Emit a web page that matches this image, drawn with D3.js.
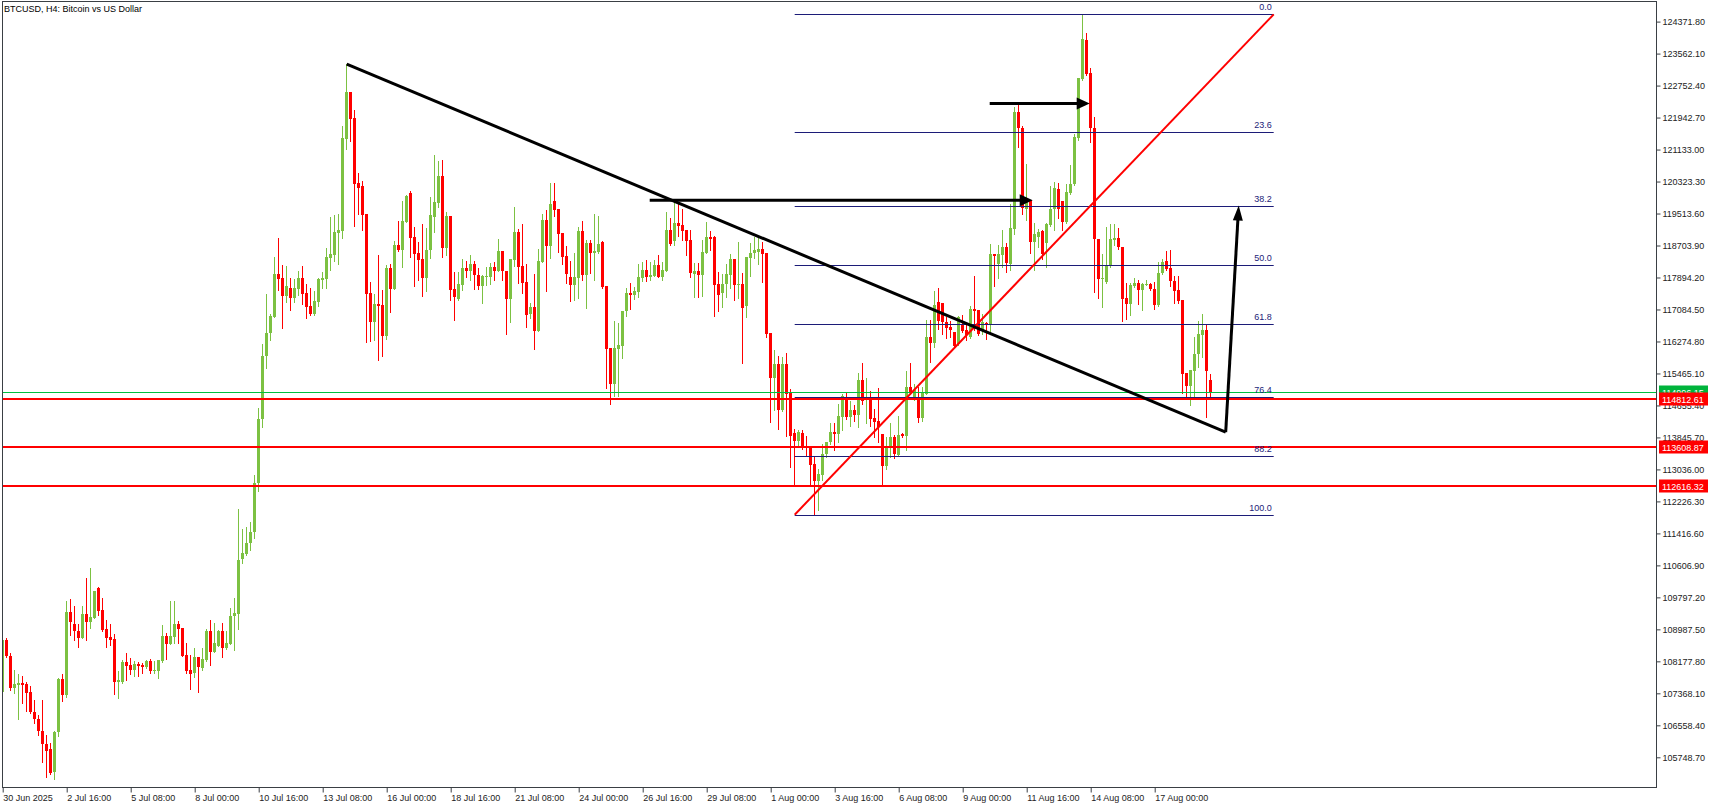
<!DOCTYPE html>
<html>
<head>
<meta charset="utf-8">
<script src="https://cdn.jsdelivr.net/npm/d3@7"></script>
<style>
  html, body { margin: 0; padding: 0; background: #ffffff; }
  svg { display: block; }
  text { font-family: "Liberation Sans", Arial, sans-serif; }
</style>
</head>
<body>
<svg id="chart" width="1719" height="810"></svg>
<script>
// ---- BTCUSD H4 bars, starting 30 Jun 2025 00:00, one bar every 4 hours ----
const startTime = "2025-06-30T00:00:00Z";
const barHours = 4;

// [open, high, low, close]
const ohlc = [
  [107400,108742,107374,108725],[108725,108776,108286,108303],[108320,108396,107442,107493],[107493,107966,107366,107594],
  [107569,107864,106707,107619],[107619,107813,107113,107569],[107611,107653,106910,107366],[107391,107560,106860,106885],
  [106902,107206,106606,106707],[106724,106826,106302,106403],[106420,107206,105618,106074],[106091,106302,105238,105897],
  [105964,106117,105331,105357],[105365,106403,105188,106387],[106378,107763,106277,107737],[107737,107864,107180,107332],
  [107332,109713,107265,109435],[109435,109764,108852,109164],[109131,109570,108709,108936],[108953,109131,108531,108776],
  [108776,109587,108776,109384],[109384,110296,108725,109164],[109164,110549,109021,109308],[109283,109966,109266,109966],
  [110042,110051,109359,109460],[109485,109789,108953,108979],[109004,109232,108531,108759],[108785,109131,108599,108725],
  [108751,108877,107341,107645],[107645,107940,107239,107712],[107645,108219,107620,108168],[108168,108396,107695,108067],
  [108092,108269,107864,107966],[107966,108193,107813,108118],[108118,108168,107813,108067],[108092,108143,107889,108042],
  [108042,108219,108000,108193],[108193,108244,107889,107940],[107940,108193,107889,107966],[107940,108219,107746,108219],
  [108193,109105,108151,108827],[108827,108903,108227,108607],[108624,109713,108624,108827],[108801,109713,108649,109131],
  [109131,109207,108649,109004],[109029,109029,108303,108320],[108345,108649,107873,107940],[107966,108345,107484,107847],
  [107889,108523,107771,108295],[108295,108295,107408,108025],[108016,108523,107966,108244],[108219,109004,108193,108953],
  [108953,109232,108075,108421],[108421,109156,108421,108649],[108573,108979,108573,108953],[108953,109156,108295,108523],
  [108523,108953,108497,108649],[108624,109536,108624,109333],[109316,109789,108472,109409],[109384,112043,109004,110752],
  [110777,111537,110676,110929],[110904,111588,110878,111182],[111182,111700,111000,111450],[111450,112900,111300,112700],
  [112700,114600,112500,114300],[114300,116200,114100,115900],[115900,117487,115600,116500],[116500,116971,116300,116921],
  [116896,118407,116896,117976],[117976,118888,117579,117858],[117875,118204,116617,117427],[117427,118179,117275,117672],
  [117622,117875,117073,117377],[117377,117850,117275,117622],[117605,118052,117453,117875],[117875,118179,117225,117478],
  [117504,117732,116870,117149],[117174,117622,116946,116972],[116972,117554,116946,117301],[117275,117875,117174,117858],
  [117824,118027,117630,117875],[117858,118635,117630,118407],[118382,119420,118078,118483],[118458,119479,118306,119040],
  [119015,119496,118230,119091],[119065,121725,118888,121421],[121396,123295,121142,122586],[122586,122586,121345,121902],
  [121927,122130,119192,120264],[120281,120534,119496,120163],[120205,120332,119091,119479],[119496,119496,116254,117470],
  [117504,117782,116288,116769],[116769,117478,116305,117216],[117216,118458,115800,117174],[117191,117579,115900,116414],
  [116414,118204,116338,118128],[118128,118238,117022,117605],[117605,118812,117605,118711],[118711,119319,118559,118584],
  [118584,119825,118154,119319],[119293,119986,119293,119960],[120028,120079,118407,118896],[118913,119167,117672,118483],
  [118508,118787,117824,118331],[118356,119243,117419,117875],[117875,119141,117546,118584],[118584,119927,118382,119471],
  [119429,120990,119040,119800],[119775,120838,119673,120459],[120459,120864,118407,118635],[118635,119547,118458,119445],
  [119445,119445,117326,117579],[117605,118027,116819,117402],[117351,118027,117326,117723],[117706,118356,117579,118128],
  [118128,118306,117909,118060],[118060,118458,117824,118230],[118230,118306,117605,117959],[117968,118128,117605,117681],
  [117681,117968,117250,117926],[117900,118153,117706,117926],[117909,118255,117723,118153],[118153,118280,117824,118060],
  [118060,118863,118060,118559],[118559,118559,117824,118060],[118060,118060,116465,117351],[117351,118356,116760,118356],
  [118339,119673,118187,119040],[119040,119116,117757,118162],[118179,119243,117503,117757],[117774,118229,116642,116946],
  [116963,117242,116870,117140],[117140,117976,116085,116541],[116541,118609,116541,118305],[118280,119496,118280,119344],
  [119344,119614,117554,118685],[118685,120281,118390,119749],[119825,120281,119445,119597],[119623,119623,118542,118998],
  [119015,119015,118238,118415],[118432,118685,117757,117985],[117902,118305,117301,117706],[117706,118508,117326,117900],
  [117875,119167,117368,119065],[119065,119319,117833,117959],[117959,118837,117123,118761],[118761,118837,118010,118517],
  [118517,119496,117833,118559],[118542,119445,118517,118736],[118787,118812,117630,117655],[117672,117672,115097,116085],
  [116102,116102,114692,115198],[115198,116786,114895,116102],[116085,116735,114895,116178],[116161,117039,115857,117039],
  [117039,117622,116912,117495],[117495,117748,117098,117453],[117453,117647,117351,117546],[117529,118229,117402,117900],
  [117883,118280,117807,118086],[118077,118331,117807,117900],[117900,118280,117824,117951],[117926,118331,117926,118204],
  [118204,118457,117900,117900],[117900,118289,117824,118086],[118060,119547,118060,119091],[119091,119395,118711,118736],
  [118812,119800,118711,119268],[119268,119749,118939,119192],[119217,119623,118837,119065],[119091,119091,118466,118812],
  [118837,119091,117909,118010],[117985,118255,117402,118060],[118060,118263,117402,117959],[117959,118837,117419,118533],
  [118517,119293,118517,118913],[118913,119065,118584,118871],[118913,118939,116921,117706],[117723,118027,117047,117453],
  [117503,117976,117149,117723],[117723,118246,117402,117976],[117951,118483,117630,118356],[118356,118356,117334,117706],
  [117714,118787,117385,117723],[117723,118001,115730,117123],[117166,118407,116895,118407],[118381,118761,117925,118508],
  [118508,118913,118381,118584],[118533,118913,118229,118609],[118609,118787,117782,118483],[118508,118508,116389,116456],
  [116482,116482,114236,115342],[115342,116051,114531,115697],[115697,115899,114059,114531],[114531,115874,114514,115697],
  [115697,115975,113881,114953],[114979,115063,113096,113881],[113957,114059,112665,113755],[113755,114033,113603,113983],
  [113966,114033,113552,113603],[113603,113881,113375,113569],[113603,113603,112665,113147],[113164,113383,111920,112741],
  [112741,113054,111998,112910],[112885,113687,112758,113434],[113434,113729,113349,113729],[113729,114210,113687,113983],
  [113983,114210,113535,113923],[113923,114700,113729,114388],[114362,114953,114042,114895],[114869,114979,114312,114362],
  [114362,114768,114126,114540],[114540,114666,114261,114413],[114413,115468,114109,115291],[115291,115722,114692,114768],
  [114785,115350,114210,114869],[114869,115029,114143,114312],[114337,114565,113856,114236],[114261,115089,113729,114109],
  [113932,113932,112623,113121],[113121,113864,113054,113603],[113603,114210,113349,113864],[113864,113907,113324,113425],
  [113400,114396,113383,113907],[113932,113960,113856,113881],[113881,115519,113535,115122],[115122,115722,114945,115004],
  [114861,115207,114785,115046],[114878,115122,114227,114337],[114337,115122,114270,114979],[114953,116828,114945,116389],
  [116389,116828,115756,116237],[116237,117545,116136,117191],[117267,117638,116600,116794],[117258,117258,116473,116769],
  [116769,116895,116372,116617],[116642,116794,116389,116558],[116515,116515,116136,116161],[116220,116921,116178,116895],
  [116710,116938,116507,116532],[116558,116684,116305,116431],[116389,117166,116364,117090],[117090,117926,116558,117048],
  [117065,117065,116440,116473],[116558,116980,116473,116769],[116744,116769,116338,116684],[116710,118736,116473,118483],
  [118483,118500,117672,118432],[118246,118728,117892,118483],[118475,119108,118162,118669],[118669,118770,118035,118263],
  [118246,119749,118078,119141],[119125,122215,119006,122080],[122080,122257,121202,121691],[121691,121725,119513,119648],
  [119640,120779,119344,119868],[119868,119868,118517,118795],[118804,119277,118094,119006],[118922,119133,118669,119057],
  [119074,119091,118373,118500],[118770,119277,118162,119243],[119226,120205,119209,119640],[119631,120307,119091,120171],
  [120129,120290,119412,119640],[119825,119825,119091,119293],[119293,120273,119277,120053],[120036,120754,120020,120273],
  [120264,121539,120248,121438],[121421,122941,121370,122941],[122924,124554,122890,123920],[123903,124072,123008,123042],
  [123059,123194,121328,121666],[121666,121961,117529,118871],[118880,118880,117385,117858],[117858,118500,117149,117892],
  [117782,119175,117757,118204],[118187,119259,118162,118863],[118854,119243,118719,118905],[118905,119141,118626,118669],
  [118669,118669,116786,117351],[117368,117757,116853,117216],[117216,117757,116938,117698],[117681,117892,117655,117757],
  [117757,117824,117233,117588],[117571,117757,117081,117723],[117723,117841,117698,117740],[117723,117757,117571,117605],
  [117605,117782,117107,117191],[117191,118297,117166,118019],[118019,118373,117993,118289],[118314,118567,118078,118111],
  [118145,118584,117672,117799],[117799,117926,117250,117554],[117571,117943,117250,117301],[117318,117318,114971,115460],
  [115486,115486,114869,115139],[115148,115545,114658,115545],[115528,116389,114869,115967],[115967,116794,115629,116473],
  [116448,116980,115883,116558],[116558,116727,114363,115528],[115291,115460,114869,114996.15]
];

// price scale ticks
const priceTicks = [105748.70,106558.40,107368.10,108177.80,108987.50,109797.20,110606.90,111416.60,112226.30,
  113036.00,113845.70,114655.40,115465.10,116274.80,117084.50,117894.20,118703.90,119513.60,120323.30,
  121133.00,121942.70,122752.40,123562.10,124371.80];

// time scale ticks
const timeTicks = ["2025-06-30T00:00Z","2025-07-02T16:00Z","2025-07-05T08:00Z","2025-07-08T00:00Z","2025-07-10T16:00Z",
  "2025-07-13T08:00Z","2025-07-16T00:00Z","2025-07-18T16:00Z","2025-07-21T08:00Z","2025-07-24T00:00Z",
  "2025-07-26T16:00Z","2025-07-29T08:00Z","2025-08-01T00:00Z","2025-08-03T16:00Z","2025-08-06T08:00Z",
  "2025-08-09T00:00Z","2025-08-11T16:00Z","2025-08-14T08:00Z","2025-08-17T00:00Z"];
const timeTickLabels = ["30 Jun 2025","2 Jul 16:00","5 Jul 08:00","8 Jul 00:00","10 Jul 16:00","13 Jul 08:00",
  "16 Jul 00:00","18 Jul 16:00","21 Jul 08:00","24 Jul 00:00","26 Jul 16:00","29 Jul 08:00","1 Aug 00:00",
  "3 Aug 16:00","6 Aug 08:00","9 Aug 00:00","11 Aug 16:00","14 Aug 08:00","17 Aug 00:00"];

// horizontal support levels and the bid line
const levelPrices = [114812.61, 113608.87, 112616.32];
const bidPrice = 114996.15;

// Fibonacci retracement anchors (low -> high) and its levels
const fibTimes = ["2025-08-02T00:00Z", "2025-08-21T23:00Z"];
const fibPrices = [111890, 124554];
const fibLevels = [0.0, 23.6, 38.2, 50.0, 61.8, 76.4, 88.2, 100.0];

// descending trendline and the projected move
const trendTimes = ["2025-07-14T08:00Z", "2025-08-19T23:00Z"];
const trendPrices = [123295, 113981];
const projTimes = ["2025-08-19T23:00Z", "2025-08-20T12:00Z"];
const projPrices = [113981, 119716];

// horizontal arrows
const arrowLowTimes = ["2025-07-26T23:00Z", "2025-08-11T22:00Z"];
const arrowLowPrice = 119850;
const arrowHighTimes = ["2025-08-10T03:00Z", "2025-08-14T07:00Z"];
const arrowHighPrice = 122300;

const title = "BTCUSD, H4:  Bitcoin vs US Dollar";

// ---- drawing ----
const W = 1719, H = 810;
const plot = { left: 2.5, right: 1656.5, top: 1.5, bottom: 787.5 };
const HOUR = 3600e3;
const t0 = new Date(startTime);

const x = d3.scaleUtc()
  .domain([t0, new Date(+t0 + 1653 * HOUR)])
  .range([2.7, 1655.7]);
const y = d3.scaleLinear()
  .domain([105748.7, 124371.8])
  .range([757.3, 21.6]);

const UP = "#7cc142", DOWN = "#ff0000", NAVY = "#1c1c78", AXIS = "#3a3f44", TXT = "#222222";

const svg = d3.select("#chart");
svg.append("rect").attr("width", W).attr("height", H).attr("fill", "#ffffff");

svg.append("defs").append("clipPath").attr("id", "plotClip")
  .append("rect")
  .attr("x", plot.left).attr("y", plot.top)
  .attr("width", plot.right - plot.left).attr("height", plot.bottom - plot.top);

const g = svg.append("g").attr("clip-path", "url(#plotClip)");

// candles
const bars = ohlc.map((d, i) => ({
  t: new Date(+t0 + i * barHours * HOUR), o: d[0], h: d[1], l: d[2], c: d[3]
}));
const cx = d => Math.floor(x(d.t)) + 0.5;
const col = d => (d.c >= d.o ? UP : DOWN);

const candles = g.append("g").selectAll("g").data(bars).join("g");
candles.append("line")
  .attr("x1", cx).attr("x2", cx)
  .attr("y1", d => Math.round(y(d.h))).attr("y2", d => Math.round(y(d.l)) + 1)
  .attr("stroke", col).attr("stroke-width", 1);
candles.append("rect")
  .attr("x", d => cx(d) - 1.5)
  .attr("width", 3)
  .attr("y", d => Math.round(y(Math.max(d.o, d.c))))
  .attr("height", d => Math.max(1, Math.round(y(Math.min(d.o, d.c))) - Math.round(y(Math.max(d.o, d.c)))))
  .attr("fill", col);

// bid line
g.append("line")
  .attr("x1", plot.left).attr("x2", plot.right)
  .attr("y1", Math.round(y(bidPrice)) + 0.5).attr("y2", Math.round(y(bidPrice)) + 0.5)
  .attr("stroke", "#00c040").attr("stroke-width", 1);

// support levels
g.append("g").selectAll("line").data(levelPrices).join("line")
  .attr("x1", plot.left).attr("x2", plot.right)
  .attr("y1", d => Math.round(y(d))).attr("y2", d => Math.round(y(d)))
  .attr("stroke", "#ff0000").attr("stroke-width", 2);

// Fibonacci retracement
const fx1 = x(new Date(fibTimes[0])), fx2 = x(new Date(fibTimes[1]));
const fibG = g.append("g");
fibLevels.forEach(lv => {
  const p = fibPrices[1] - (fibPrices[1] - fibPrices[0]) * lv / 100;
  const yy = Math.round(y(p)) + 0.5;
  fibG.append("line")
    .attr("x1", fx1).attr("x2", fx2).attr("y1", yy).attr("y2", yy)
    .attr("stroke", NAVY).attr("stroke-width", 1);
  fibG.append("text")
    .attr("x", fx2 - 2).attr("y", yy - 5)
    .attr("text-anchor", "end")
    .attr("font-size", 9).attr("fill", NAVY)
    .text(lv.toFixed(1));
});
fibG.append("line")
  .attr("x1", fx1).attr("y1", y(fibPrices[0]))
  .attr("x2", fx2).attr("y2", y(fibPrices[1]))
  .attr("stroke", "#ff0000").attr("stroke-width", 2);

// trendline + projection
const line = d3.line().x(d => x(new Date(d[0]))).y(d => y(d[1]));
g.append("path")
  .attr("d", line(trendTimes.map((t, i) => [t, trendPrices[i]])))
  .attr("fill", "none").attr("stroke", "#000").attr("stroke-width", 3);

function arrowHead(xTip, yTip, xFrom, yFrom, len, half) {
  const dx = xTip - xFrom, dy = yTip - yFrom, n = Math.hypot(dx, dy);
  const ux = dx / n, uy = dy / n;
  const bx = xTip - ux * len, by = yTip - uy * len;
  return [[xTip, yTip], [bx - uy * half, by + ux * half], [bx + uy * half, by - ux * half]];
}
function drawArrow(times, prices, len, half) {
  const x1 = x(new Date(times[0])), y1 = y(prices[0]);
  const x2 = x(new Date(times[1])), y2 = y(prices[1]);
  const n = Math.hypot(x2 - x1, y2 - y1);
  const ex = x2 - (x2 - x1) / n * (len - 2), ey = y2 - (y2 - y1) / n * (len - 2);
  g.append("line").attr("x1", x1).attr("y1", y1).attr("x2", ex).attr("y2", ey)
    .attr("stroke", "#000").attr("stroke-width", 3);
  g.append("polygon")
    .attr("points", arrowHead(x2, y2, x1, y1, len, half).map(p => p.join(",")).join(" "))
    .attr("fill", "#000");
}
drawArrow(projTimes, projPrices, 15, 5);
drawArrow(arrowLowTimes, [arrowLowPrice, arrowLowPrice], 13, 6);
drawArrow(arrowHighTimes, [arrowHighPrice, arrowHighPrice], 13, 6);

// frame
svg.append("rect")
  .attr("x", plot.left).attr("y", plot.top)
  .attr("width", plot.right - plot.left).attr("height", plot.bottom - plot.top)
  .attr("fill", "none").attr("stroke", AXIS).attr("stroke-width", 1);

// price axis
const yAxis = d3.axisRight(y)
  .tickValues(priceTicks)
  .tickFormat(d3.format(".2f"))
  .tickSize(4).tickSizeOuter(0).tickPadding(2);
const ya = svg.append("g").attr("transform", `translate(${plot.right},0)`).call(yAxis);
ya.select(".domain").remove();
ya.selectAll(".tick line").attr("stroke", AXIS);
ya.selectAll(".tick text").attr("fill", TXT).attr("font-size", 9)
  .attr("font-family", "Liberation Sans, Arial, sans-serif");

// time axis
const xAxis = d3.axisBottom(x)
  .tickValues(timeTicks.map(t => new Date(t)))
  .tickFormat((d, i) => timeTickLabels[i])
  .tickSize(5).tickSizeOuter(0).tickPadding(2);
const xa = svg.append("g").attr("transform", `translate(0,${plot.bottom})`).call(xAxis);
xa.select(".domain").remove();
xa.selectAll(".tick line").attr("stroke", AXIS);
xa.selectAll(".tick text").attr("fill", TXT).attr("font-size", 9)
  .attr("text-anchor", "start").attr("x", 0)
  .attr("font-family", "Liberation Sans, Arial, sans-serif");

// price labels on the axis
const tags = [{ p: bidPrice, fill: "#00b43c" }].concat(levelPrices.map(p => ({ p, fill: "#ff0000" })));
const tagG = svg.append("g").selectAll("g").data(tags).join("g")
  .attr("transform", d => `translate(1659,${Math.round(y(d.p))})`);
tagG.append("rect").attr("x", 0).attr("y", -6.5).attr("width", 49).attr("height", 13).attr("fill", d => d.fill);
tagG.append("text").attr("x", 3).attr("y", 3.5).attr("fill", "#ffffff").attr("font-size", 9)
  .text(d => d.p.toFixed(2));

// title
svg.append("text").attr("x", 4).attr("y", 12).attr("font-size", 9).attr("fill", "#000")
  .text(title);
</script>
</body>
</html>
